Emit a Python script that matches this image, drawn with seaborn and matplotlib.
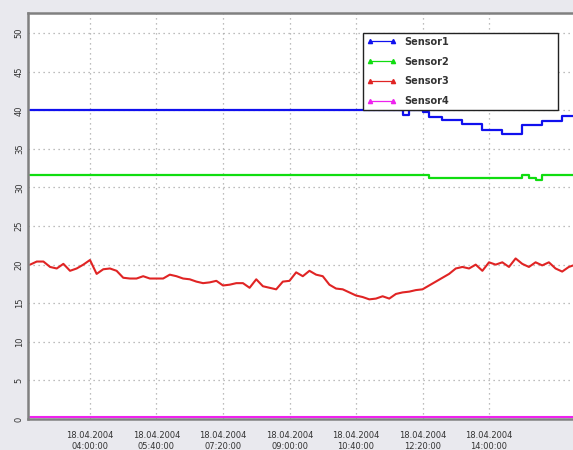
import numpy as np
import pandas as pd
import matplotlib
matplotlib.use("Agg")
import matplotlib.pyplot as plt
import matplotlib.dates as mdates
from matplotlib.lines import Line2D
import seaborn as sns

# ---- data (10-minute samples, 18.04.2004 from 02:30) ----
start_time = "2004-04-18 02:30"
n_points = 83

sensor1 = [40.0] * 56 + [39.4, 40.0, 40.0, 39.8,
           39.1, 39.1, 38.7, 38.7, 38.7, 38.2, 38.2, 38.2,
           37.5, 37.5, 37.5, 36.9, 36.9, 36.9, 38.1, 38.1, 38.1,
           38.6, 38.6, 38.6, 39.2, 39.2, 39.2]

sensor2 = [31.6] * 60 + [31.2] * 14 + [31.6, 31.2, 30.9] + [31.6] * 6

sensor3 = [20.0, 20.4, 20.4, 19.7, 19.5, 20.1, 19.2, 19.5, 20.0, 20.6,
           18.8, 19.4, 19.5, 19.2, 18.3, 18.2, 18.2, 18.5, 18.2, 18.2,
           18.2, 18.7, 18.5, 18.2, 18.1, 17.8, 17.6, 17.7, 17.9, 17.3,
           17.4, 17.6, 17.6, 17.0, 18.1, 17.2, 17.0, 16.8, 17.8, 17.9,
           19.0, 18.5, 19.2, 18.7, 18.5, 17.4, 16.9, 16.8, 16.4, 16.0,
           15.8, 15.5, 15.6, 15.9, 15.6, 16.2, 16.4, 16.5, 16.7, 16.8,
           17.3, 17.8, 18.3, 18.8, 19.5, 19.7, 19.5, 20.0, 19.2, 20.3,
           20.0, 20.3, 19.7, 20.8, 20.1, 19.7, 20.3, 19.9, 20.3, 19.5,
           19.1, 19.7, 20.0]

sensor4 = [0.3] * n_points

sensor_names = ["Sensor1", "Sensor2", "Sensor3", "Sensor4"]
sensor_colors = ["#1010ee", "#10dd10", "#e02424", "#ee22ee"]
y_ticks = [0, 5, 10, 15, 20, 25, 30, 35, 40, 45, 50]
x_tick_start = "2004-04-18 04:00"
n_x_ticks = 7

times = pd.date_range(start_time, periods=n_points, freq="10min")
df = pd.concat([
    pd.DataFrame({"time": times, "value": vals, "sensor": name})
    for name, vals in zip(sensor_names, [sensor1, sensor2, sensor3, sensor4])
], ignore_index=True)

sns.set_style("white")
plt.rcParams["font.family"] = ["DejaVu Sans"]

fig = plt.figure(figsize=(5.73, 4.5), dpi=100, facecolor="#e9e9ee")
ax = fig.add_axes([28 / 573, 1 - 419 / 450, 552 / 573, 406 / 450])
ax.set_facecolor("white")

palette = dict(zip(sensor_names, sensor_colors))
stepped = df[df["sensor"].isin(["Sensor1", "Sensor2"])]
smooth = df[df["sensor"].isin(["Sensor3", "Sensor4"])]
sns.lineplot(data=stepped, x="time", y="value", hue="sensor",
             palette=palette, linewidth=1.6, drawstyle="steps-post",
             legend=False, ax=ax)
sns.lineplot(data=smooth, x="time", y="value", hue="sensor",
             palette=palette, linewidth=1.5, legend=False, ax=ax)

ax.set_xlim(pd.Timestamp("2004-04-18 02:26:48"), pd.Timestamp("2004-04-18 16:16:48"))
ax.set_ylim(0, 52.6)
ax.set_xlabel("")
ax.set_ylabel("")

xt = pd.date_range(x_tick_start, periods=n_x_ticks, freq="100min")
ax.set_xticks(xt)
ax.xaxis.set_major_formatter(mdates.DateFormatter("%d.%m.%Y\n%H:%M:%S"))
ax.set_yticks(y_ticks)
ax.tick_params(axis="x", labelsize=6, colors="#333333", direction="inout", length=6,
               width=1, pad=6)
ax.tick_params(axis="y", labelsize=6, colors="#333333", direction="in", length=3,
               labelrotation=90, pad=3)
for lab in ax.get_yticklabels():
    lab.set_va("center")

ax.grid(True, color="#a8a8a8", linestyle=(0, (1, 3)), linewidth=0.9)
for side in ["left", "bottom", "top", "right"]:
    ax.spines[side].set_color("#808080")
    ax.spines[side].set_linewidth(1.8)

handles = [Line2D([0], [0], color=c, lw=0.9, marker="^", markersize=3)
           for c in sensor_colors]
leg = ax.legend(handles, sensor_names, loc="upper left",
                bbox_to_anchor=(0.607, 0.768, 0.353, 0.183), mode="expand",
                prop={"size": 7, "weight": "bold"}, numpoints=2,
                frameon=True, fancybox=False, framealpha=1, borderaxespad=0,
                labelspacing=1.0, handlelength=3, handletextpad=0.8,
                borderpad=0.4)
leg.get_frame().set_edgecolor("#222222")
leg.get_frame().set_linewidth(1.0)
for t in leg.get_texts():
    t.set_color("#333333")

fig.savefig("out.png", dpi=100, facecolor=fig.get_facecolor())
